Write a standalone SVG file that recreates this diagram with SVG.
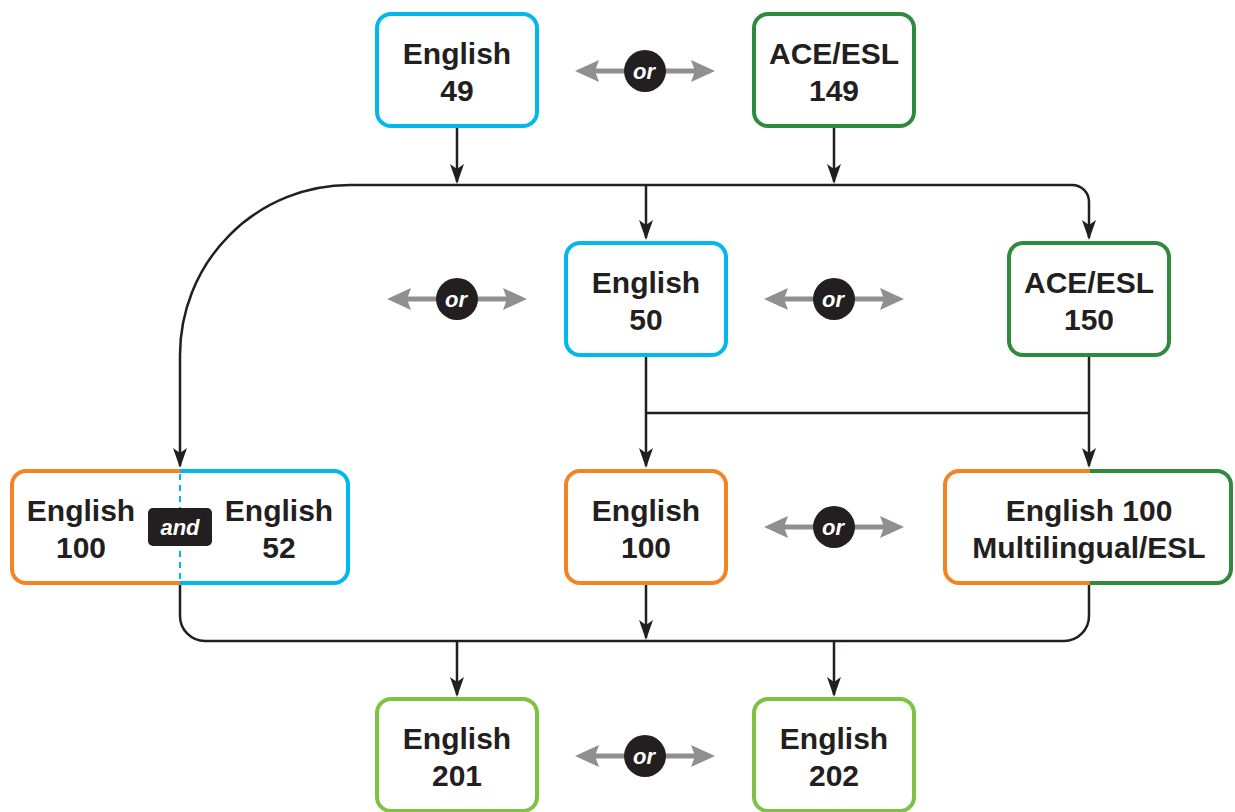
<svg xmlns="http://www.w3.org/2000/svg" width="1235" height="812" viewBox="0 0 1235 812">
<defs>
<style>
.box{fill:#fff;stroke-width:4}
.blue{stroke:#00B8EC}
.dg{stroke:#2E8B3E}
.or{stroke:#F28423}
.lg{stroke:#7DC242}
.t{font-family:"Liberation Sans",Arial,sans-serif;font-weight:700;font-size:30px;fill:#231F20;text-anchor:middle}
.c{fill:none;stroke:#231F20;stroke-width:2.5}
.ga{stroke:#8F8F8F;stroke-width:5}
.gh{fill:#8F8F8F}
.ot{font-family:"Liberation Sans",Arial,sans-serif;font-weight:700;font-style:italic;font-size:22px;fill:#fff;text-anchor:middle}
</style>
<g id="orsym">
<line class="ga" x1="-52" y1="0" x2="52" y2="0"/>
<polygon class="gh" points="-70,0 -46,-11 -50,0 -46,11"/>
<polygon class="gh" points="70,0 46,-11 50,0 46,11"/>
<circle r="21" fill="#231F20"/>
<text class="ot" x="-1" y="8">or</text>
</g>
</defs>
<g id="connectors">
<path class="c" d="M457,128 V182"/>
<path class="c" d="M834,128 V182"/>
<path class="c" d="M350,185 H1072 A17,17 0 0 1 1089,202 V238"/>
<path class="c" d="M350,185 A170,170 0 0 0 180,355 V466"/>
<path class="c" d="M646,185 V238"/>
<path class="c" d="M646,357 V466"/>
<path class="c" d="M1089,357 V466"/>
<path class="c" d="M646,413 H1089"/>
<path class="c" d="M180,585 V616 A25,25 0 0 0 205,641 H1064 A25,25 0 0 0 1089,616 V585"/>
<path class="c" d="M646,585 V638"/>
<path class="c" d="M457,641 V695"/>
<path class="c" d="M834,641 V695"/>
<g fill="#231F20">
<polygon points="457,184 450,164 457,169 464,164"/>
<polygon points="834,184 827,164 834,169 841,164"/>
<polygon points="646,240 639,220 646,225 653,220"/>
<polygon points="1089,240 1082,220 1089,225 1096,220"/>
<polygon points="180,468 173,448 180,453 187,448"/>
<polygon points="646,468 639,448 646,453 653,448"/>
<polygon points="1089,468 1082,448 1089,453 1096,448"/>
<polygon points="646,640 639,620 646,625 653,620"/>
<polygon points="457,697 450,677 457,682 464,677"/>
<polygon points="834,697 827,677 834,682 841,677"/>
</g>
</g>
<g id="n-eng49">
<rect class="box blue" x="377" y="14" width="160" height="112" rx="14"/>
<text class="t" x="457" y="64">English</text>
<text class="t" x="457" y="101">49</text>
</g>
<g id="n-ace149">
<rect class="box dg" x="754" y="14" width="160" height="112" rx="14"/>
<text class="t" x="834" y="64">ACE/ESL</text>
<text class="t" x="834" y="101">149</text>
</g>
<g id="n-eng50">
<rect class="box blue" x="566" y="243" width="160" height="112" rx="14"/>
<text class="t" x="646" y="293">English</text>
<text class="t" x="646" y="330">50</text>
</g>
<g id="n-ace150">
<rect class="box dg" x="1009" y="243" width="160" height="112" rx="14"/>
<text class="t" x="1089" y="293">ACE/ESL</text>
<text class="t" x="1089" y="330">150</text>
</g>
<g id="n-eng100-52">
<rect x="12" y="471" width="336" height="112" rx="14" fill="#fff"/>
<path class="or" fill="none" stroke-width="4" d="M180,471 H26 A14,14 0 0 0 12,485 V569 A14,14 0 0 0 26,583 H180"/>
<path class="blue" fill="none" stroke-width="4" d="M180,471 H334 A14,14 0 0 1 348,485 V569 A14,14 0 0 1 334,583 H180"/>
<line x1="180" y1="474" x2="180" y2="581" stroke="#00B8EC" stroke-width="2" stroke-dasharray="6,5"/>
<text class="t" x="81" y="521">English</text>
<text class="t" x="81" y="558">100</text>
<text class="t" x="279" y="521">English</text>
<text class="t" x="279" y="558">52</text>
<rect x="148" y="508" width="64" height="38" rx="5" fill="#231F20"/>
<text class="ot" x="180" y="535">and</text>
</g>
<g id="n-eng100">
<rect class="box or" x="566" y="471" width="160" height="112" rx="14"/>
<text class="t" x="646" y="521">English</text>
<text class="t" x="646" y="558">100</text>
</g>
<g id="n-eng100ml">
<rect x="945" y="471" width="286" height="112" rx="14" fill="#fff"/>
<path class="or" fill="none" stroke-width="4" d="M1090,471 H959 A14,14 0 0 0 945,485 V569 A14,14 0 0 0 959,583 H1090"/>
<path class="dg" fill="none" stroke-width="4" d="M1090,471 H1217 A14,14 0 0 1 1231,485 V569 A14,14 0 0 1 1217,583 H1090"/>
<text class="t" x="1089" y="521">English 100</text>
<text class="t" x="1089" y="558">Multilingual/ESL</text>
</g>
<g id="n-eng201">
<rect class="box lg" x="377" y="699" width="160" height="112" rx="14"/>
<text class="t" x="457" y="749">English</text>
<text class="t" x="457" y="786">201</text>
</g>
<g id="n-eng202">
<rect class="box lg" x="754" y="699" width="160" height="112" rx="14"/>
<text class="t" x="834" y="749">English</text>
<text class="t" x="834" y="786">202</text>
</g>
<g id="or-symbols">
<use href="#orsym" x="645" y="71"/>
<use href="#orsym" x="457" y="299"/>
<use href="#orsym" x="834" y="299"/>
<use href="#orsym" x="834" y="527"/>
<use href="#orsym" x="645" y="756"/>
</g>
</svg>
